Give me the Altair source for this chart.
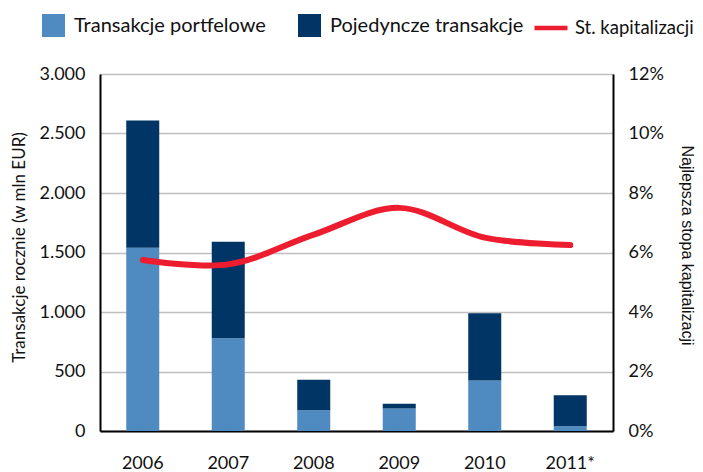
import altair as alt
import pandas as pd

years = ["2006", "2007", "2008", "2009", "2010", "2011*"]
portfelowe = [1540, 780, 175, 190, 425, 40]
pojedyncze = [1070, 810, 255, 40, 565, 260]
stopa = [0.0575, 0.056, 0.066, 0.075, 0.065, 0.0625]

s1 = "Transakcje portfelowe"
s2 = "Pojedyncze transakcje"
s3 = "St. kapitalizacji"

rows = []
for y, a, b in zip(years, portfelowe, pojedyncze):
    rows.append({"rok": y, "seria": s1, "val": a, "ord": 0})
    rows.append({"rok": y, "seria": s2, "val": b, "ord": 1})
bars_df = pd.DataFrame(rows)
line_df = pd.DataFrame({"rok": years, "stopa": stopa, "seria": [s3] * len(years)})

FONT = "Lato"

xenc = alt.X("rok:N", sort=years, title=None,
             scale=alt.Scale(paddingInner=0.614, paddingOuter=0.307),
             axis=alt.Axis(labelAngle=0, labelFontSize=18, labelFont=FONT, labelColor="#111",
                           ticks=False, domainColor="#000", domainWidth=2,
                           labelPadding=23, grid=False))

bars = alt.Chart(bars_df).mark_bar(stroke=None).encode(
    x=xenc,
    y=alt.Y("val:Q", stack="zero", title="Transakcje rocznie (w mln EUR)",
            scale=alt.Scale(domain=[0, 3000], nice=False),
            axis=alt.Axis(values=[0, 500, 1000, 1500, 2000, 2500, 3000],
                          labelExpr="replace(format(datum.value, ','), ',', '.')",
                          labelFontSize=18, labelFont=FONT, labelColor="#111",
                          labelPadding=15, ticks=False,
                          domainColor="#000", domainWidth=2,
                          gridColor="#BFBFBF", gridWidth=1.5,
                          titleFont=FONT, titleFontSize=17, titleFontWeight="normal",
                          titleColor="#111", titlePadding=10, titleY=247 - 74)),
    fill=alt.Fill("seria:N", scale=alt.Scale(domain=[s1, s2], range=["#4F8BC0", "#003566"]),
                  legend=alt.Legend(orient="none", legendX=-58, legendY=-60, direction="horizontal",
                                    title=None, symbolType="square", symbolSize=529,
                                    symbolStrokeWidth=0, labelFontSize=20, labelFont=FONT,
                                    labelColor="#111", labelOffset=9, columnPadding=32,
                                    padding=0, labelLimit=400)),
    order=alt.Order("ord:Q"),
)

line = alt.Chart(line_df).mark_line(interpolate="catmull-rom", strokeWidth=6, strokeCap="round").encode(
    x=alt.X("rok:N", sort=years),
    y=alt.Y("stopa:Q", title="Najlepsza stopa kapitalizacji",
            scale=alt.Scale(domain=[0, 0.12], nice=False),
            axis=alt.Axis(orient="right", values=[0, 0.02, 0.04, 0.06, 0.08, 0.1, 0.12],
                          format=".0%", labelFontSize=18, labelFont=FONT, labelColor="#111",
                          labelPadding=15, ticks=False, grid=False,
                          domainColor="#000", domainWidth=2,
                          titleFont="Liberation Sans", titleFontSize=16, titleFontWeight="normal",
                          titleColor="#111", titlePadding=15, titleY=245 - 74)),
    stroke=alt.Stroke("seria:N", scale=alt.Scale(domain=[s3], range=["#ED1C2E"]),
                      legend=alt.Legend(orient="none", legendX=432, legendY=-65, title=None,
                                        symbolType="stroke", symbolSize=1089, symbolStrokeWidth=4.5,
                                        labelFontSize=18.5, labelFont=FONT, labelColor="#111",
                                        labelOffset=5, padding=0, labelLimit=400)),
)

chart = alt.layer(bars, line).resolve_scale(y="independent").properties(
    width=513, height=357,
    autosize=alt.AutoSizeParams(type="none"),
    padding={"left": 92, "top": 66, "right": 82, "bottom": 41},
).configure_view(stroke=None).configure(background="white")

chart.save("out.html", embed_options={"renderer": "svg", "actions": False})
